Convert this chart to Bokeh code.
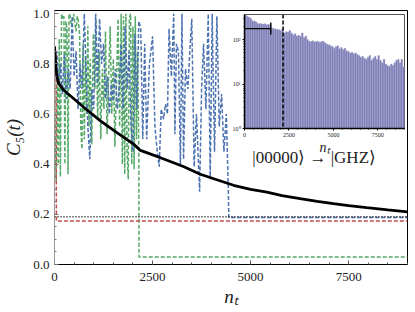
import numpy as np
from bokeh.plotting import figure
from bokeh.models import (Range1d, FixedTicker, PrintfTickFormatter, Span, Label,
                          Whisker, ColumnDataSource, TeeHead, InlineStyleSheet)
from bokeh.embed import file_html
from bokeh.resources import INLINE

# ---------------- data ----------------
avg_n = [0, 30, 60, 110, 237, 500, 746, 1171, 1600, 2019, 2190, 2700, 2869, 3300, 3717,
         4100, 4565, 5000, 5414, 5800, 6262, 6700, 7110, 7500, 7959, 8500, 9000]
avg_c = [0.87, 0.80, 0.75, 0.72, 0.695, 0.66, 0.627, 0.573, 0.525, 0.48, 0.455, 0.426, 0.416,
         0.39, 0.36, 0.34, 0.316, 0.30, 0.289, 0.275, 0.263, 0.252, 0.243, 0.235, 0.227, 0.218, 0.21]

red_n = [0, 40, 48, 9000]
red_c = [0.86, 0.84, 0.173, 0.173]

dotted_level = 0.19

green_n = [0, 25, 45, 70, 95, 120, 150, 180, 210, 240, 265, 290, 320, 345, 370, 400, 430, 460,
           490, 520, 550, 580, 610, 640, 670, 700, 730, 760, 790, 820, 850, 880, 910, 950, 990,
           1030, 1060, 1100, 1140, 1180, 1220, 1260, 1300, 1340, 1380, 1420, 1460, 1500, 1540,
           1580, 1620, 1660, 1700, 1730, 1760, 1790, 1820, 1850, 1880, 1910, 1940, 1970, 2000,
           2030, 2060, 2090, 2120, 2150, 2155, 9000]
green_c = [0.80, 0.45, 0.33, 0.75, 0.40, 0.90, 0.35, 1.00, 0.98, 0.99, 0.40, 0.97, 0.94, 0.36,
           1.00, 0.99, 0.95, 0.97, 1.00, 0.96, 0.93, 0.99, 0.97, 0.92, 0.55, 0.46, 0.88, 0.50,
           0.83, 0.60, 0.95, 0.55, 0.82, 0.48, 0.92, 0.70, 0.97, 0.58, 0.85, 0.50, 0.78, 0.62,
           0.93, 0.52, 0.75, 0.95, 0.60, 0.82, 0.47, 0.72, 0.98, 0.55, 1.00, 0.40, 0.99, 0.36,
           1.00, 0.45, 0.34, 0.98, 1.00, 0.40, 0.95, 0.38, 0.99, 0.50, 0.85, 0.45, 0.03, 0.03]

blue_n = [0, 30, 60, 100, 150, 200, 250, 300, 350, 400, 450, 500, 550, 600, 650, 700, 760, 800,
          850, 900, 950, 1000, 1050, 1100, 1150, 1200, 1250, 1300, 1350, 1400, 1450, 1500, 1550,
          1600, 1650, 1700, 1750, 1800, 1850, 1900, 1950, 2000, 2050, 2100, 2150, 2200, 2250,
          2300, 2350, 2420, 2500, 2560, 2620, 2670, 2720, 2780, 2830, 2880, 2920, 2980, 3040,
          3070, 3110, 3160, 3210, 3250, 3290, 3340, 3400, 3450, 3500, 3560, 3620, 3700, 3750,
          3800, 3860, 3920, 3970, 4020, 4080, 4140, 4200, 4260, 4320, 4380, 4430, 4445, 9000]
blue_c = [0.86, 0.78, 0.85, 0.72, 0.80, 0.68, 0.84, 0.66, 0.78, 0.70, 0.99, 0.75, 0.85, 0.62,
          0.80, 0.70, 1.00, 0.80, 0.55, 0.42, 0.70, 0.62, 1.00, 0.72, 0.98, 0.80, 0.88, 0.66,
          0.75, 0.60, 0.72, 0.65, 0.78, 0.62, 0.70, 0.88, 0.62, 0.95, 0.70, 0.85, 0.55, 0.45,
          0.92, 0.62, 0.97, 0.94, 0.50, 0.88, 0.50, 0.80, 0.91, 0.55, 0.45, 0.39, 0.62, 0.58,
          0.64, 0.60, 0.94, 0.75, 1.00, 0.52, 0.88, 0.85, 0.40, 1.00, 0.42, 0.78, 0.70, 0.85,
          0.98, 0.39, 0.60, 0.29, 0.70, 0.88, 0.62, 1.00, 0.34, 1.00, 0.45, 0.99, 0.55, 0.68,
          0.45, 0.60, 0.31, 0.187, 0.187]

hist_counts = [360, 335, 320, 300, 265, 262, 250, 230, 228, 225, 222, 226, 215, 220, 210, 180,
               178, 172, 170, 165, 160, 175, 140, 150, 148, 160, 140, 128, 135, 120, 125, 118,
               140, 110, 120, 100, 92, 90, 94, 88, 92, 90, 86, 92, 90, 84, 78, 76, 72, 70, 64,
               70, 72, 62, 66, 60, 64, 56, 54, 50, 52, 48, 50, 46, 44, 40, 42, 38, 36, 40, 44,
               34, 38, 42, 36, 44, 34, 30, 36, 28, 26, 25, 28, 26, 30, 34, 36, 30, 36, 24]
hist_bin_width = 100
hist_marker_n = 2170
err_y = 176
err_lo = 0
err_hi = 1480

x_ticks = [0, 2500, 5000, 7500]
y_ticks = [0.0, 0.2, 0.4, 0.6, 0.8, 1.0]

SERIF = "Liberation Serif"
BLUE = "#4C72B0"
GREEN = "#55A868"
RED = "#C44E52"

# ---------------- main figure ----------------
p = figure(width=415, height=312, output_backend="svg", toolbar_location=None,
           x_range=Range1d(0, 9000), y_range=Range1d(0, 1.013),
           min_border_left=54, min_border_right=8, min_border_top=10, min_border_bottom=48)
p.grid.visible = False
p.outline_line_color = "black"
p.outline_line_width = 1
p.background_fill_color = "white"

p.line(green_n, green_c, color=GREEN, line_width=1.5, line_dash="4 2")
p.line(blue_n, blue_c, color=BLUE, line_width=1.5, line_dash="4 2")
p.add_layout(Span(location=dotted_level, dimension="width", line_color="black",
                  line_width=1.5, line_dash="1 2"))
p.line(red_n, red_c, color=RED, line_width=1.5, line_dash="4 2")
p.line(avg_n, avg_c, color="black", line_width=2.8)

p.xaxis.ticker = FixedTicker(ticks=x_ticks, minor_ticks=list(range(0, 9001, 500)))
p.yaxis.ticker = FixedTicker(ticks=y_ticks, minor_ticks=[i * 0.05 for i in range(21)])
p.yaxis.formatter = PrintfTickFormatter(format="%.1f")
for ax in (p.xaxis[0], p.yaxis[0]):
    ax.major_tick_in = 4
    ax.major_tick_out = 0
    ax.minor_tick_in = 2
    ax.minor_tick_out = 0
    ax.major_label_text_font = SERIF
    ax.major_label_text_font_size = "13px"
    ax.major_label_text_color = "#222222"
    ax.axis_label_text_font = SERIF
    ax.axis_label_text_font_style = "italic"
    ax.axis_label_text_font_size = "19px"
    ax.axis_label_text_color = "#222222"
p.xaxis.major_label_standoff = 8
p.yaxis.major_label_standoff = 5
p.xaxis.axis_label = "nₜ"
p.yaxis.axis_label = "C₅(t)"
p.xaxis.axis_label_standoff = 2
p.yaxis.axis_label_standoff = 6
p.yaxis.axis_line_color = "#999999"
p.yaxis.major_tick_line_color = "#777777"
p.yaxis.minor_tick_line_color = "#777777"
p.xaxis.axis_line_color = "black"
p.xaxis.major_tick_line_color = "#555555"
p.xaxis.minor_tick_line_color = "#555555"

p.add_layout(Label(x=6620, y=0.425, text="|00000⟩ → |GHZ⟩",
                   text_align="center", text_baseline="middle",
                   text_font=SERIF, text_font_size="17px", text_color="#222222"))

# ---------------- inset ----------------
inset = figure(width=184, height=146, output_backend="svg", toolbar_location=None,
               x_range=Range1d(0, 9000), y_range=Range1d(1, 365), y_axis_type="log",
               min_border_left=20, min_border_right=4, min_border_top=2, min_border_bottom=30)
inset.styles = {"position": "absolute", "left": "224px", "top": "12px"}
inset.stylesheets = [InlineStyleSheet(
    css=":host { position: absolute !important; left: 224px !important; top: 12px !important; }")]
inset.grid.visible = False
inset.background_fill_color = "white"
inset.border_fill_alpha = 0
inset.outline_line_color = "#555555"
inset.outline_line_width = 1

edges = np.arange(len(hist_counts) + 1) * hist_bin_width
inset.quad(left=edges[:-1], right=edges[1:], bottom=1, top=hist_counts,
           fill_color="#7676b4", line_color="#b4b4d4", line_width=0.4)
inset.add_layout(Span(location=hist_marker_n, dimension="height", line_color="black",
                      line_width=1.5, line_dash="4 2"))
err_src = ColumnDataSource(dict(base=[err_y], lower=[err_lo], upper=[err_hi]))
inset.add_layout(Whisker(source=err_src, base="base", lower="lower", upper="upper",
                         dimension="width", line_color="black", line_width=1.4, level="overlay",
                         upper_head=TeeHead(size=12, line_color="black", line_width=1.4),
                         lower_head=None))

inset.xaxis.ticker = FixedTicker(ticks=x_ticks, minor_ticks=list(range(0, 9001, 500)))
inset.yaxis.ticker = FixedTicker(ticks=[1, 10, 100],
                                 minor_ticks=[2, 3, 4, 5, 6, 7, 8, 9, 20, 30, 40, 50, 60, 70, 80, 90, 200, 300])
inset.yaxis.major_label_overrides = {1: "10⁰", 10: "10¹", 100: "10²"}
for ax in (inset.xaxis[0], inset.yaxis[0]):
    ax.major_tick_in = 0
    ax.major_tick_out = 2
    ax.minor_tick_in = 0
    ax.minor_tick_out = 1
    ax.major_label_text_font = SERIF
    ax.major_label_text_font_size = "6px"
    ax.major_label_text_color = "#222222"
    ax.major_label_standoff = 2
    ax.axis_line_color = "black"
    ax.axis_line_width = 1.5
inset.xaxis.axis_label = "nₜ"
inset.xaxis.axis_label_standoff = 0
inset.xaxis.axis_label_text_font = SERIF
inset.xaxis.axis_label_text_font_style = "italic"
inset.xaxis.axis_label_text_font_size = "14px"
inset.xaxis.axis_label_text_color = "#222222"

open("out.html", "w").write(file_html([p, inset], INLINE))
